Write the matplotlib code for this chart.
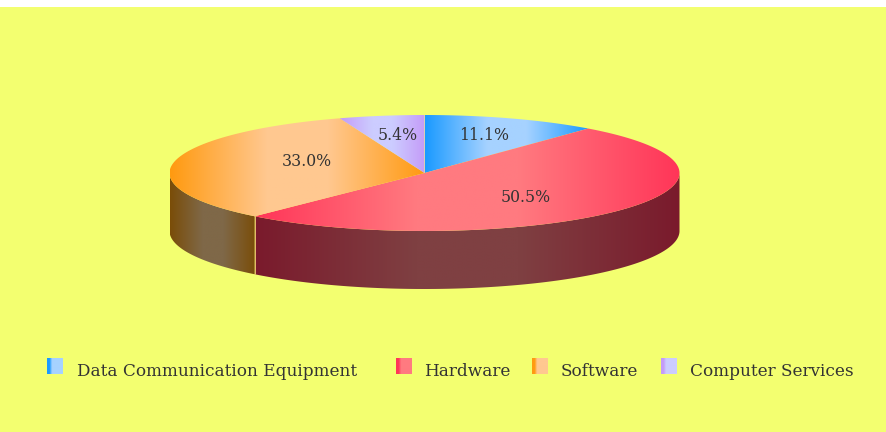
import numpy as np
import matplotlib
matplotlib.use("Agg")
import matplotlib.pyplot as plt
from matplotlib.colors import LinearSegmentedColormap
from matplotlib.patches import Polygon

categories = ["Data Communication Equipment", "Hardware", "Software", "Computer Services"]
shares = [11.1, 50.5, 33.0, 5.4]
labels = ["11.1%", "50.5%", "33.0%", "5.4%"]

# edge colour, middle colour for top and side of each slice
top_colors = [("#1a9aff", "#a6d2ff"), ("#ff3558", "#ff7a80"), ("#ff9a10", "#ffc890"), ("#c49cf8", "#ccccff")]
side_colors = [("#0d4d80", "#53697f"), ("#7a1a2c", "#7f4042"), ("#7a4d08", "#7f6848"), ("#624e7c", "#66667f")]
legend_x = [47, 396, 532, 661]
legend_text_x = [77, 424, 561, 690]

W, H = 886, 432
CX, CY, RX, RY, DEPTH = 424.5, 173.0, 255.0, 58.0, 58.0
BG = "#f3ff70"


def ux(px):
    return (px - CX) / RX


def uy(py):
    return (CY - py) / RY


def gradient(ax, c1, c2, clip, x0, x1, y0, y1):
    cmap = LinearSegmentedColormap.from_list("g", [(0, c1), (0.38, c2), (0.62, c2), (1, c1)])
    im = ax.imshow(np.linspace(0, 1, 256).reshape(1, -1), cmap=cmap, aspect="auto",
                   extent=(x0, x1, y0, y1), interpolation="bilinear", zorder=2)
    im.set_clip_path(clip)
    return im


fig = plt.figure(figsize=(W / 100, H / 100), dpi=100, facecolor="white")
ax = fig.add_axes([0, 0, 1, 1])
ax.set_xlim(ux(0), ux(W))
ax.set_ylim(uy(H), uy(0))
ax.axis("off")
ax.add_patch(Polygon([(ux(0), uy(7)), (ux(W), uy(7)), (ux(W), uy(H)), (ux(0), uy(H))],
                     facecolor=BG, edgecolor="none", zorder=0))

depth = DEPTH / RY
ends = np.cumsum(shares) / np.sum(shares) * 360
starts = np.concatenate([[0], ends[:-1]])

# side walls: only the part of each slice on the front half of the ellipse
for a0, a1, cols in zip(starts, ends, side_colors):
    lo, hi = max(a0, 90), min(a1, 270)
    if lo >= hi:
        continue
    t = np.radians(np.linspace(lo, hi, 200))
    x, y = np.sin(t), np.cos(t)
    pts = np.vstack([np.column_stack([x, y]), np.column_stack([x[::-1], y[::-1] - depth])])
    poly = Polygon(pts, facecolor="none", edgecolor="none", transform=ax.transData)
    ax.add_patch(poly)
    gradient(ax, cols[0], cols[1], poly, x.min(), x.max(), -2.2, 1.2)

# thin light seam where software meets hardware on the wall
seam = np.radians(ends[1])
ax.plot([np.sin(seam)] * 2, [np.cos(seam), np.cos(seam) - depth], color="#e8c070", lw=0.7, zorder=3)

# top face
for a0, a1, cols in zip(starts, ends, top_colors):
    t = np.radians(np.linspace(a0, a1, 300))
    x, y = np.sin(t), np.cos(t)
    pts = np.vstack([[0, 0], np.column_stack([x, y])])
    poly = Polygon(pts, facecolor="none", edgecolor="none", transform=ax.transData)
    ax.add_patch(poly)
    gradient(ax, cols[0], cols[1], poly, pts[:, 0].min(), pts[:, 0].max(), -1.2, 1.2)

# percentage labels
label_font = dict(family="DejaVu Serif", fontsize=11.3, color="#333333", ha="center", va="center", zorder=5)
label_pos = [(484.5, 135), (525.5, 197.5), (306.5, 161), (397.5, 136)]
for lab, (px, py) in zip(labels, label_pos):
    ax.text(ux(px), uy(py), lab, **label_font)

# legend
for name, sx, tx, cols in zip(categories, legend_x, legend_text_x, top_colors):
    cmap = LinearSegmentedColormap.from_list("l", [(0, cols[0]), (0.16, cols[0]), (0.32, cols[1]), (1, cols[1])])
    ax.imshow(np.linspace(0, 1, 64).reshape(1, -1), cmap=cmap, aspect="auto",
              extent=(ux(sx), ux(sx + 16), uy(374), uy(358)), zorder=2)
    ax.text(ux(tx), uy(371.5), name, family="DejaVu Serif", fontsize=12.2, color="#333333",
            ha="left", va="center", zorder=5)

ax.set_xlim(ux(0), ux(W))
ax.set_ylim(uy(H), uy(0))
fig.savefig("out.png", dpi=100, facecolor="white")
